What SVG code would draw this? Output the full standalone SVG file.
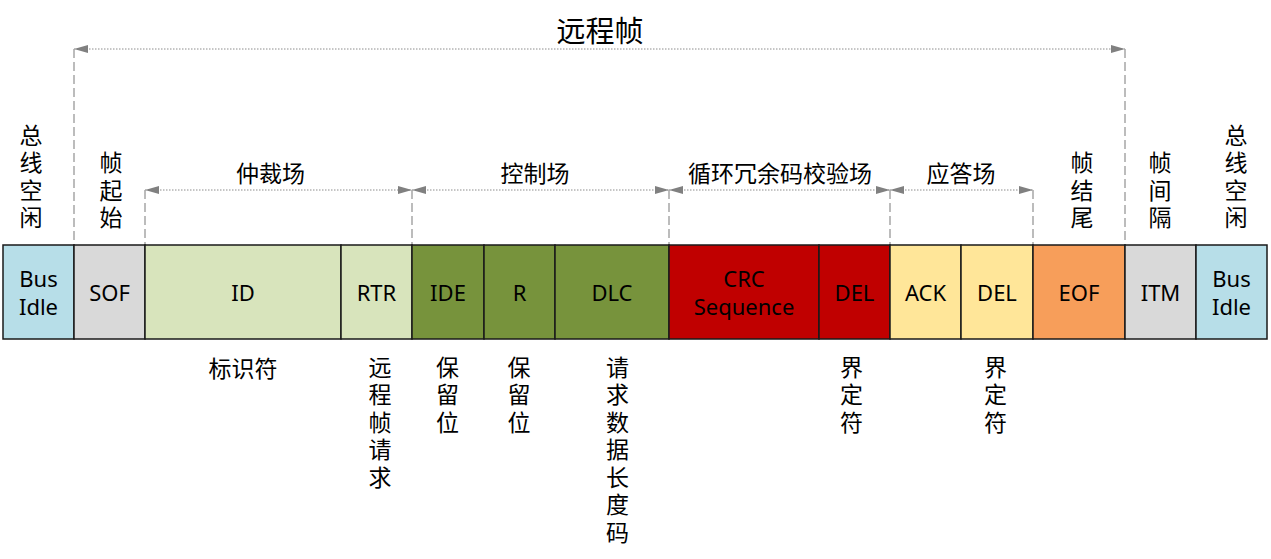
<svg xmlns="http://www.w3.org/2000/svg" width="1271" height="559" viewBox="0 0 1271 559">
<style>
.box{stroke:#1a1a1a;stroke-width:1.5}
.bt{font-family:"Noto Sans","Noto Sans CJK SC",sans-serif;font-size:22px;fill:#000;text-anchor:middle;dominant-baseline:central}
.cj{font-family:"Noto Sans CJK SC","Noto Sans",sans-serif;font-size:23px;fill:#000;text-anchor:middle;dominant-baseline:central}
.vt{font-family:"Noto Sans CJK SC","Noto Sans",sans-serif;font-size:23px;fill:#000;writing-mode:vertical-rl;letter-spacing:4.5px;text-anchor:start}
.ttl{font-family:"Noto Sans CJK SC","Noto Sans",sans-serif;font-size:29px;fill:#000;text-anchor:middle;dominant-baseline:central}
.dot{stroke:#8c8c8c;stroke-width:1;stroke-dasharray:1.5 1.5;fill:none}
.dash{stroke:#a6a6a6;stroke-width:1.5;stroke-dasharray:9 4;fill:none}
</style>
<defs>
<marker id="ah" viewBox="0 0 14 8" refX="14" refY="4" markerWidth="14" markerHeight="8" markerUnits="userSpaceOnUse" orient="auto-start-reverse">
<path d="M0,0 L14,4 L0,8 z" fill="#808080"/>
</marker>
</defs>

<text id="title" class="ttl" x="600" y="29">远程帧</text>

<g id="connectors">
<line class="dot" x1="74" y1="49" x2="1125" y2="49" marker-start="url(#ah)" marker-end="url(#ah)"/>
<line class="dash" x1="74" y1="49" x2="74" y2="245"/>
<line class="dash" x1="1125" y1="49" x2="1125" y2="245"/>
<line class="dot" x1="145" y1="190" x2="412" y2="190" marker-start="url(#ah)" marker-end="url(#ah)"/>
<line class="dot" x1="412" y1="190" x2="669" y2="190" marker-start="url(#ah)" marker-end="url(#ah)"/>
<line class="dot" x1="669" y1="190" x2="890" y2="190" marker-start="url(#ah)" marker-end="url(#ah)"/>
<line class="dot" x1="890" y1="190" x2="1033" y2="190" marker-start="url(#ah)" marker-end="url(#ah)"/>
<line class="dash" x1="145" y1="190" x2="145" y2="245"/>
<line class="dash" x1="412" y1="190" x2="412" y2="245"/>
<line class="dash" x1="669" y1="190" x2="669" y2="245"/>
<line class="dash" x1="890" y1="190" x2="890" y2="245"/>
<line class="dash" x1="1033" y1="190" x2="1033" y2="245"/>
</g>

<g id="field-labels">
<text class="cj" x="270.5" y="172">仲裁场</text>
<text class="cj" x="535" y="172">控制场</text>
<text class="cj" x="780" y="172">循环冗余码校验场</text>
<text class="cj" x="961" y="172">应答场</text>
</g>

<g id="top-labels">
<text class="vt" x="31" y="123.5">总线空闲</text>
<text class="vt" x="111" y="151">帧起始</text>
<text class="vt" x="1082" y="151">帧结尾</text>
<text class="vt" x="1160" y="151">帧间隔</text>
<text class="vt" x="1236" y="123.5">总线空闲</text>
</g>

<g id="bus-idle-1"><rect class="box" x="3" y="245" width="71" height="94" fill="#B7DEE8"/><text class="bt" x="38.5" y="277.5">Bus</text><text class="bt" x="38.5" y="305.5">Idle</text></g>
<g id="sof"><rect class="box" x="74" y="245" width="71" height="94" fill="#D9D9D9"/><text class="bt" x="109.5" y="292">SOF</text></g>
<g id="id"><rect class="box" x="145" y="245" width="196" height="94" fill="#D8E4BC"/><text class="bt" x="243" y="292">ID</text></g>
<g id="rtr"><rect class="box" x="341" y="245" width="71" height="94" fill="#D8E4BC"/><text class="bt" x="376.5" y="292">RTR</text></g>
<g id="ide"><rect class="box" x="412" y="245" width="72" height="94" fill="#77933C"/><text class="bt" x="448" y="292">IDE</text></g>
<g id="r"><rect class="box" x="484" y="245" width="71" height="94" fill="#77933C"/><text class="bt" x="519.5" y="292">R</text></g>
<g id="dlc"><rect class="box" x="555" y="245" width="114" height="94" fill="#77933C"/><text class="bt" x="612" y="292">DLC</text></g>
<g id="crc"><rect class="box" x="669" y="245" width="150" height="94" fill="#C00000"/><text class="bt" x="744" y="277.5">CRC</text><text class="bt" x="744" y="305.5">Sequence</text></g>
<g id="crc-del"><rect class="box" x="819" y="245" width="71" height="94" fill="#C00000"/><text class="bt" x="854.5" y="292">DEL</text></g>
<g id="ack"><rect class="box" x="890" y="245" width="71" height="94" fill="#FFE699"/><text class="bt" x="925.5" y="292">ACK</text></g>
<g id="ack-del"><rect class="box" x="961" y="245" width="72" height="94" fill="#FFE699"/><text class="bt" x="997" y="292">DEL</text></g>
<g id="eof"><rect class="box" x="1033" y="245" width="92" height="94" fill="#F79E5A"/><text class="bt" x="1079" y="292">EOF</text></g>
<g id="itm"><rect class="box" x="1125" y="245" width="71" height="94" fill="#D9D9D9"/><text class="bt" x="1160.5" y="292">ITM</text></g>
<g id="bus-idle-2"><rect class="box" x="1196" y="245" width="71" height="94" fill="#B7DEE8"/><text class="bt" x="1231.5" y="277.5">Bus</text><text class="bt" x="1231.5" y="305.5">Idle</text></g>

<g id="bottom-labels">
<text class="cj" x="243" y="367">标识符</text>
<text class="vt" x="380" y="355.5">远程帧请求</text>
<text class="vt" x="447.5" y="355.5">保留位</text>
<text class="vt" x="519" y="355.5">保留位</text>
<text class="vt" x="617.5" y="355.5">请求数据长度码</text>
<text class="vt" x="851.5" y="355.5">界定符</text>
<text class="vt" x="995.5" y="355.5">界定符</text>
</g>
</svg>
